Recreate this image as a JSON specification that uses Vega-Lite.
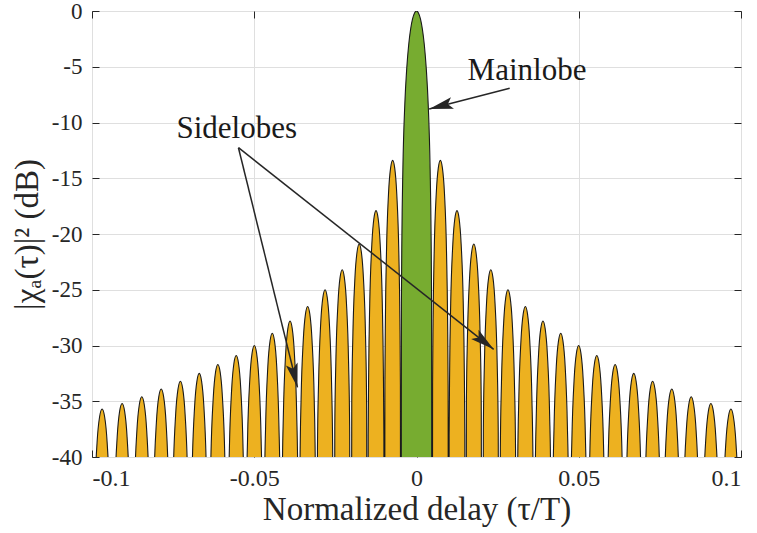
{
"$schema": "https://vega.github.io/schema/vega-lite/v6.json",
"width": 649,
"height": 446,
"autosize": {"type": "none"},
"padding": {"left": 92, "top": 11, "right": 16, "bottom": 76},
"background": "white",
"config": {"view": {"stroke": "#262626", "strokeWidth": 1}, "font": "Liberation Serif"},
"datasets": {
"curve": [
{"s":"M","x":-0.0048,"y":-100},{"s":"M","x":-0.00465,"y":-26.18},{"s":"M","x":-0.0045,"y":-20.17},{"s":"M","x":-0.0042,"y":-14.2},{"s":"M","x":-0.0036,"y":-8.34},{"s":"M","x":-0.003,"y":-5.11},{"s":"M","x":-0.0024,"y":-3.01},{"s":"M","x":-0.0018,"y":-1.6},{"s":"M","x":-0.0012,"y":-0.69},{"s":"M","x":-0.0006,"y":-0.17},{"s":"M","x":0,"y":0},
{"s":"M","x":0.0006,"y":-0.17},{"s":"M","x":0.0012,"y":-0.69},{"s":"M","x":0.0018,"y":-1.6},{"s":"M","x":0.0024,"y":-3.01},{"s":"M","x":0.003,"y":-5.11},{"s":"M","x":0.0036,"y":-8.34},{"s":"M","x":0.0042,"y":-14.2},{"s":"M","x":0.0045,"y":-20.17},{"s":"M","x":0.00465,"y":-26.18},{"s":"M","x":0.0048,"y":-100},
{"s":"R","x":0.0048,"y":-100},{"s":"R","x":0.00496,"y":-33.57},{"s":"R","x":0.00512,"y":-27.6},{"s":"R","x":0.00544,"y":-21.74},{"s":"R","x":0.00608,"y":-16.41},{"s":"R","x":0.00671,"y":-14.09},{"s":"R","x":0.00735,"y":-13.4},{"s":"R","x":0.00799,"y":-14.09},{"s":"R","x":0.00863,"y":-16.41},{"s":"R","x":0.00926,"y":-21.74},{"s":"R","x":0.00958,"y":-27.6},{"s":"R","x":0.00974,"y":-33.57},
{"s":"R","x":0.0099,"y":-100},{"s":"R","x":0.01006,"y":-38.07},{"s":"R","x":0.01022,"y":-32.1},{"s":"R","x":0.01054,"y":-26.24},{"s":"R","x":0.01119,"y":-20.91},{"s":"R","x":0.01183,"y":-18.59},{"s":"R","x":0.01248,"y":-17.9},{"s":"R","x":0.01312,"y":-18.59},{"s":"R","x":0.01376,"y":-20.91},{"s":"R","x":0.01441,"y":-26.24},{"s":"R","x":0.01473,"y":-32.1},{"s":"R","x":0.01489,"y":-38.07},
{"s":"R","x":0.01505,"y":-100},{"s":"R","x":0.01538,"y":-35.1},{"s":"R","x":0.0157,"y":-29.24},{"s":"R","x":0.01636,"y":-23.91},{"s":"R","x":0.01701,"y":-21.59},{"s":"R","x":0.01766,"y":-20.9},{"s":"R","x":0.01831,"y":-21.59},{"s":"R","x":0.01897,"y":-23.91},{"s":"R","x":0.01962,"y":-29.24},{"s":"R","x":0.01995,"y":-35.1},
{"s":"R","x":0.02027,"y":-100},{"s":"R","x":0.0206,"y":-37.4},{"s":"R","x":0.02093,"y":-31.54},{"s":"R","x":0.02158,"y":-26.21},{"s":"R","x":0.02224,"y":-23.89},{"s":"R","x":0.02289,"y":-23.2},{"s":"R","x":0.02355,"y":-23.89},{"s":"R","x":0.0242,"y":-26.21},{"s":"R","x":0.02486,"y":-31.54},{"s":"R","x":0.02518,"y":-37.4},
{"s":"R","x":0.02551,"y":-100},{"s":"R","x":0.02584,"y":-39.2},{"s":"R","x":0.02618,"y":-33.34},{"s":"R","x":0.02685,"y":-28.01},{"s":"R","x":0.02751,"y":-25.69},{"s":"R","x":0.02818,"y":-25},{"s":"R","x":0.02885,"y":-25.69},{"s":"R","x":0.02952,"y":-28.01},{"s":"R","x":0.03018,"y":-33.34},{"s":"R","x":0.03052,"y":-39.2},
{"s":"R","x":0.03085,"y":-100},{"s":"R","x":0.03119,"y":-40.7},{"s":"R","x":0.03152,"y":-34.84},{"s":"R","x":0.0322,"y":-29.51},{"s":"R","x":0.03287,"y":-27.19},{"s":"R","x":0.03355,"y":-26.5},{"s":"R","x":0.03422,"y":-27.19},{"s":"R","x":0.03489,"y":-29.51},{"s":"R","x":0.03557,"y":-34.84},{"s":"R","x":0.0359,"y":-40.7},
{"s":"R","x":0.03624,"y":-100},{"s":"R","x":0.03658,"y":-42},{"s":"R","x":0.03692,"y":-36.14},{"s":"R","x":0.03761,"y":-30.81},{"s":"R","x":0.03829,"y":-28.49},{"s":"R","x":0.03897,"y":-27.8},{"s":"R","x":0.03965,"y":-28.49},{"s":"R","x":0.04034,"y":-30.81},{"s":"R","x":0.04102,"y":-36.14},{"s":"R","x":0.04136,"y":-42},
{"s":"R","x":0.0417,"y":-100},{"s":"R","x":0.04204,"y":-43.1},{"s":"R","x":0.04239,"y":-37.24},{"s":"R","x":0.04307,"y":-31.91},{"s":"R","x":0.04376,"y":-29.59},{"s":"R","x":0.04445,"y":-28.9},{"s":"R","x":0.04513,"y":-29.59},{"s":"R","x":0.04582,"y":-31.91},{"s":"R","x":0.0465,"y":-37.24},{"s":"R","x":0.04685,"y":-43.1},
{"s":"R","x":0.04719,"y":-100},{"s":"R","x":0.04754,"y":-44.2},{"s":"R","x":0.04789,"y":-38.34},{"s":"R","x":0.04858,"y":-33.01},{"s":"R","x":0.04928,"y":-30.69},{"s":"R","x":0.04997,"y":-30},{"s":"R","x":0.05067,"y":-30.69},{"s":"R","x":0.05136,"y":-33.01},{"s":"R","x":0.05206,"y":-38.34},{"s":"R","x":0.0524,"y":-44.2},
{"s":"R","x":0.05275,"y":-100},{"s":"R","x":0.0531,"y":-45.1},{"s":"R","x":0.05345,"y":-39.24},{"s":"R","x":0.05415,"y":-33.91},{"s":"R","x":0.05485,"y":-31.59},{"s":"R","x":0.05556,"y":-30.9},{"s":"R","x":0.05626,"y":-31.59},{"s":"R","x":0.05696,"y":-33.91},{"s":"R","x":0.05766,"y":-39.24},{"s":"R","x":0.05801,"y":-45.1},
{"s":"R","x":0.05836,"y":-100},{"s":"R","x":0.05872,"y":-45.9},{"s":"R","x":0.05907,"y":-40.04},{"s":"R","x":0.05979,"y":-34.71},{"s":"R","x":0.0605,"y":-32.39},{"s":"R","x":0.06122,"y":-31.7},{"s":"R","x":0.06193,"y":-32.39},{"s":"R","x":0.06264,"y":-34.71},{"s":"R","x":0.06336,"y":-40.04},{"s":"R","x":0.06371,"y":-45.9},
{"s":"R","x":0.06407,"y":-100},{"s":"R","x":0.06443,"y":-46.7},{"s":"R","x":0.06479,"y":-40.84},{"s":"R","x":0.06551,"y":-35.51},{"s":"R","x":0.06623,"y":-33.19},{"s":"R","x":0.06695,"y":-32.5},{"s":"R","x":0.06767,"y":-33.19},{"s":"R","x":0.06839,"y":-35.51},{"s":"R","x":0.06911,"y":-40.84},{"s":"R","x":0.06947,"y":-46.7},
{"s":"R","x":0.06983,"y":-100},{"s":"R","x":0.0702,"y":-47.4},{"s":"R","x":0.07056,"y":-41.54},{"s":"R","x":0.0713,"y":-36.21},{"s":"R","x":0.07203,"y":-33.89},{"s":"R","x":0.07276,"y":-33.2},{"s":"R","x":0.07349,"y":-33.89},{"s":"R","x":0.07423,"y":-36.21},{"s":"R","x":0.07496,"y":-41.54},{"s":"R","x":0.07532,"y":-47.4},
{"s":"R","x":0.07569,"y":-100},{"s":"R","x":0.07606,"y":-48.1},{"s":"R","x":0.07644,"y":-42.24},{"s":"R","x":0.07718,"y":-36.91},{"s":"R","x":0.07793,"y":-34.59},{"s":"R","x":0.07867,"y":-33.9},{"s":"R","x":0.07942,"y":-34.59},{"s":"R","x":0.08016,"y":-36.91},{"s":"R","x":0.08091,"y":-42.24},{"s":"R","x":0.08128,"y":-48.1},
{"s":"R","x":0.08165,"y":-100},{"s":"R","x":0.08203,"y":-48.8},{"s":"R","x":0.0824,"y":-42.94},{"s":"R","x":0.08315,"y":-37.61},{"s":"R","x":0.0839,"y":-35.29},{"s":"R","x":0.08466,"y":-34.6},{"s":"R","x":0.08541,"y":-35.29},{"s":"R","x":0.08616,"y":-37.61},{"s":"R","x":0.08691,"y":-42.94},{"s":"R","x":0.08728,"y":-48.8},
{"s":"R","x":0.08766,"y":-100},{"s":"R","x":0.08804,"y":-49.4},{"s":"R","x":0.08842,"y":-43.54},{"s":"R","x":0.08919,"y":-38.21},{"s":"R","x":0.08995,"y":-35.89},{"s":"R","x":0.09072,"y":-35.2},{"s":"R","x":0.09148,"y":-35.89},{"s":"R","x":0.09224,"y":-38.21},{"s":"R","x":0.09301,"y":-43.54},{"s":"R","x":0.09339,"y":-49.4},
{"s":"R","x":0.09377,"y":-100},{"s":"R","x":0.09416,"y":-49.9},{"s":"R","x":0.09455,"y":-44.04},{"s":"R","x":0.09533,"y":-38.71},{"s":"R","x":0.09611,"y":-36.39},{"s":"R","x":0.09689,"y":-35.7},{"s":"R","x":0.09766,"y":-36.39},{"s":"R","x":0.09844,"y":-38.71},{"s":"R","x":0.09922,"y":-44.04},{"s":"R","x":0.09961,"y":-49.9},{"s":"R","x":0.1,"y":-100},
{"s":"L","x":-0.0048,"y":-100},{"s":"L","x":-0.00496,"y":-33.57},{"s":"L","x":-0.00512,"y":-27.6},{"s":"L","x":-0.00544,"y":-21.74},{"s":"L","x":-0.00608,"y":-16.41},{"s":"L","x":-0.00671,"y":-14.09},{"s":"L","x":-0.00735,"y":-13.4},{"s":"L","x":-0.00799,"y":-14.09},{"s":"L","x":-0.00863,"y":-16.41},{"s":"L","x":-0.00926,"y":-21.74},{"s":"L","x":-0.00958,"y":-27.6},{"s":"L","x":-0.00974,"y":-33.57},
{"s":"L","x":-0.0099,"y":-100},{"s":"L","x":-0.01006,"y":-38.07},{"s":"L","x":-0.01022,"y":-32.1},{"s":"L","x":-0.01054,"y":-26.24},{"s":"L","x":-0.01119,"y":-20.91},{"s":"L","x":-0.01183,"y":-18.59},{"s":"L","x":-0.01248,"y":-17.9},{"s":"L","x":-0.01312,"y":-18.59},{"s":"L","x":-0.01376,"y":-20.91},{"s":"L","x":-0.01441,"y":-26.24},{"s":"L","x":-0.01473,"y":-32.1},{"s":"L","x":-0.01489,"y":-38.07},
{"s":"L","x":-0.01505,"y":-100},{"s":"L","x":-0.01538,"y":-35.1},{"s":"L","x":-0.0157,"y":-29.24},{"s":"L","x":-0.01636,"y":-23.91},{"s":"L","x":-0.01701,"y":-21.59},{"s":"L","x":-0.01766,"y":-20.9},{"s":"L","x":-0.01831,"y":-21.59},{"s":"L","x":-0.01897,"y":-23.91},{"s":"L","x":-0.01962,"y":-29.24},{"s":"L","x":-0.01995,"y":-35.1},
{"s":"L","x":-0.02027,"y":-100},{"s":"L","x":-0.0206,"y":-37.4},{"s":"L","x":-0.02093,"y":-31.54},{"s":"L","x":-0.02158,"y":-26.21},{"s":"L","x":-0.02224,"y":-23.89},{"s":"L","x":-0.02289,"y":-23.2},{"s":"L","x":-0.02355,"y":-23.89},{"s":"L","x":-0.0242,"y":-26.21},{"s":"L","x":-0.02486,"y":-31.54},{"s":"L","x":-0.02518,"y":-37.4},
{"s":"L","x":-0.02551,"y":-100},{"s":"L","x":-0.02584,"y":-39.2},{"s":"L","x":-0.02618,"y":-33.34},{"s":"L","x":-0.02685,"y":-28.01},{"s":"L","x":-0.02751,"y":-25.69},{"s":"L","x":-0.02818,"y":-25},{"s":"L","x":-0.02885,"y":-25.69},{"s":"L","x":-0.02952,"y":-28.01},{"s":"L","x":-0.03018,"y":-33.34},{"s":"L","x":-0.03052,"y":-39.2},
{"s":"L","x":-0.03085,"y":-100},{"s":"L","x":-0.03119,"y":-40.7},{"s":"L","x":-0.03152,"y":-34.84},{"s":"L","x":-0.0322,"y":-29.51},{"s":"L","x":-0.03287,"y":-27.19},{"s":"L","x":-0.03355,"y":-26.5},{"s":"L","x":-0.03422,"y":-27.19},{"s":"L","x":-0.03489,"y":-29.51},{"s":"L","x":-0.03557,"y":-34.84},{"s":"L","x":-0.0359,"y":-40.7},
{"s":"L","x":-0.03624,"y":-100},{"s":"L","x":-0.03658,"y":-42},{"s":"L","x":-0.03692,"y":-36.14},{"s":"L","x":-0.03761,"y":-30.81},{"s":"L","x":-0.03829,"y":-28.49},{"s":"L","x":-0.03897,"y":-27.8},{"s":"L","x":-0.03965,"y":-28.49},{"s":"L","x":-0.04034,"y":-30.81},{"s":"L","x":-0.04102,"y":-36.14},{"s":"L","x":-0.04136,"y":-42},
{"s":"L","x":-0.0417,"y":-100},{"s":"L","x":-0.04204,"y":-43.1},{"s":"L","x":-0.04239,"y":-37.24},{"s":"L","x":-0.04307,"y":-31.91},{"s":"L","x":-0.04376,"y":-29.59},{"s":"L","x":-0.04445,"y":-28.9},{"s":"L","x":-0.04513,"y":-29.59},{"s":"L","x":-0.04582,"y":-31.91},{"s":"L","x":-0.0465,"y":-37.24},{"s":"L","x":-0.04685,"y":-43.1},
{"s":"L","x":-0.04719,"y":-100},{"s":"L","x":-0.04754,"y":-44.2},{"s":"L","x":-0.04789,"y":-38.34},{"s":"L","x":-0.04858,"y":-33.01},{"s":"L","x":-0.04928,"y":-30.69},{"s":"L","x":-0.04997,"y":-30},{"s":"L","x":-0.05067,"y":-30.69},{"s":"L","x":-0.05136,"y":-33.01},{"s":"L","x":-0.05206,"y":-38.34},{"s":"L","x":-0.0524,"y":-44.2},
{"s":"L","x":-0.05275,"y":-100},{"s":"L","x":-0.0531,"y":-45.1},{"s":"L","x":-0.05345,"y":-39.24},{"s":"L","x":-0.05415,"y":-33.91},{"s":"L","x":-0.05485,"y":-31.59},{"s":"L","x":-0.05556,"y":-30.9},{"s":"L","x":-0.05626,"y":-31.59},{"s":"L","x":-0.05696,"y":-33.91},{"s":"L","x":-0.05766,"y":-39.24},{"s":"L","x":-0.05801,"y":-45.1},
{"s":"L","x":-0.05836,"y":-100},{"s":"L","x":-0.05872,"y":-45.9},{"s":"L","x":-0.05907,"y":-40.04},{"s":"L","x":-0.05979,"y":-34.71},{"s":"L","x":-0.0605,"y":-32.39},{"s":"L","x":-0.06122,"y":-31.7},{"s":"L","x":-0.06193,"y":-32.39},{"s":"L","x":-0.06264,"y":-34.71},{"s":"L","x":-0.06336,"y":-40.04},{"s":"L","x":-0.06371,"y":-45.9},
{"s":"L","x":-0.06407,"y":-100},{"s":"L","x":-0.06443,"y":-46.7},{"s":"L","x":-0.06479,"y":-40.84},{"s":"L","x":-0.06551,"y":-35.51},{"s":"L","x":-0.06623,"y":-33.19},{"s":"L","x":-0.06695,"y":-32.5},{"s":"L","x":-0.06767,"y":-33.19},{"s":"L","x":-0.06839,"y":-35.51},{"s":"L","x":-0.06911,"y":-40.84},{"s":"L","x":-0.06947,"y":-46.7},
{"s":"L","x":-0.06983,"y":-100},{"s":"L","x":-0.0702,"y":-47.4},{"s":"L","x":-0.07056,"y":-41.54},{"s":"L","x":-0.0713,"y":-36.21},{"s":"L","x":-0.07203,"y":-33.89},{"s":"L","x":-0.07276,"y":-33.2},{"s":"L","x":-0.07349,"y":-33.89},{"s":"L","x":-0.07423,"y":-36.21},{"s":"L","x":-0.07496,"y":-41.54},{"s":"L","x":-0.07532,"y":-47.4},
{"s":"L","x":-0.07569,"y":-100},{"s":"L","x":-0.07606,"y":-48.1},{"s":"L","x":-0.07644,"y":-42.24},{"s":"L","x":-0.07718,"y":-36.91},{"s":"L","x":-0.07793,"y":-34.59},{"s":"L","x":-0.07867,"y":-33.9},{"s":"L","x":-0.07942,"y":-34.59},{"s":"L","x":-0.08016,"y":-36.91},{"s":"L","x":-0.08091,"y":-42.24},{"s":"L","x":-0.08128,"y":-48.1},
{"s":"L","x":-0.08165,"y":-100},{"s":"L","x":-0.08203,"y":-48.8},{"s":"L","x":-0.0824,"y":-42.94},{"s":"L","x":-0.08315,"y":-37.61},{"s":"L","x":-0.0839,"y":-35.29},{"s":"L","x":-0.08466,"y":-34.6},{"s":"L","x":-0.08541,"y":-35.29},{"s":"L","x":-0.08616,"y":-37.61},{"s":"L","x":-0.08691,"y":-42.94},{"s":"L","x":-0.08728,"y":-48.8},
{"s":"L","x":-0.08766,"y":-100},{"s":"L","x":-0.08804,"y":-49.4},{"s":"L","x":-0.08842,"y":-43.54},{"s":"L","x":-0.08919,"y":-38.21},{"s":"L","x":-0.08995,"y":-35.89},{"s":"L","x":-0.09072,"y":-35.2},{"s":"L","x":-0.09148,"y":-35.89},{"s":"L","x":-0.09224,"y":-38.21},{"s":"L","x":-0.09301,"y":-43.54},{"s":"L","x":-0.09339,"y":-49.4},
{"s":"L","x":-0.09377,"y":-100},{"s":"L","x":-0.09416,"y":-49.9},{"s":"L","x":-0.09455,"y":-44.04},{"s":"L","x":-0.09533,"y":-38.71},{"s":"L","x":-0.09611,"y":-36.39},{"s":"L","x":-0.09689,"y":-35.7},{"s":"L","x":-0.09766,"y":-36.39},{"s":"L","x":-0.09844,"y":-38.71},{"s":"L","x":-0.09922,"y":-44.04},{"s":"L","x":-0.09961,"y":-49.9},{"s":"L","x":-0.1,"y":-100}
],
"arrows": [
{"id":"main","x":0.02872,"y":-6.93,"x2":0.00392,"y2":-8.79},
{"id":"sideA","x":-0.05487,"y":-12.26,"x2":-0.03668,"y2":-33.75},
{"id":"sideB","x":-0.05487,"y":-12.26,"x2":0.02378,"y2":-30.34}
],
"notes": [
{"t":"Sidelobes","x":-0.0554,"y":-11.4},
{"t":"Mainlobe","x":0.03405,"y":-6.19}
]
},
"resolve": {"axis": {"x": "independent", "y": "independent"}},
"layer": [
{
"data": {"name": "curve"},
"mark": {"type": "area", "interpolate": "monotone", "clip": true, "opacity": 1},
"encoding": {
"x": {"field": "x", "type": "quantitative", "scale": {"domain": [-0.1, 0.1], "nice": false, "zero": false},
"axis": {"orient": "bottom", "values": [-0.1, -0.05, 0, 0.05, 0.1], "format": "~g", "labelExpr": "replace(datum.label, '\u2212', '-')", "domain": false, "grid": true, "gridColor": "#dfdfdf", "gridWidth": 1, "ticks": true, "tickSize": -7, "tickColor": "#262626", "labelPadding": 16, "labelFont": "Liberation Serif", "labelFontSize": 24, "labelColor": "#262626", "title": "Normalized delay (\u03c4/T)", "titleFont": "Liberation Serif", "titleFontSize": 33, "titleFontWeight": "normal", "titleColor": "#262626", "titleBaseline": "alphabetic", "titleX": 324.5, "titleY": 62}},
"y": {"field": "y", "type": "quantitative", "scale": {"domain": [-40, 0], "nice": false, "zero": false},
"axis": {"orient": "left", "values": [-40, -35, -30, -25, -20, -15, -10, -5, 0], "format": "d", "labelExpr": "replace(datum.label, '\u2212', '-')", "domain": false, "grid": true, "gridColor": "#dfdfdf", "gridWidth": 1, "ticks": true, "tickSize": -7, "tickColor": "#262626", "labelPadding": 17, "labelFont": "Liberation Serif", "labelFontSize": 23, "labelColor": "#262626", "title": "|\u03c7\u2090(\u03c4)|\u00b2 (dB)", "titleFont": "Liberation Serif", "titleFontSize": 33, "titleFontWeight": "normal", "titleColor": "#262626", "titleAngle": -90, "titleBaseline": "middle", "titleAlign": "center", "titleX": -65, "titleY": 223}},
"y2": {"datum": -40},
"color": {"field": "s", "type": "nominal", "scale": {"domain": ["L", "M", "R"], "range": ["#EDB120", "#77AC30", "#EDB120"]}, "legend": null}
}
},
{
"data": {"name": "curve"},
"mark": {"type": "line", "interpolate": "monotone", "clip": true, "color": "#1a1a1a", "strokeWidth": 1.1},
"encoding": {
"x": {"field": "x", "type": "quantitative", "axis": {"orient": "top", "values": [-0.1, -0.05, 0, 0.05, 0.1], "labels": false, "domain": false, "grid": false, "ticks": true, "tickSize": -7, "tickColor": "#262626", "title": null}},
"y": {"field": "y", "type": "quantitative", "axis": {"orient": "right", "values": [-40, -35, -30, -25, -20, -15, -10, -5, 0], "labels": false, "domain": false, "grid": false, "ticks": true, "tickSize": -7, "tickColor": "#262626", "title": null}},
"detail": {"field": "s"}
}
},
{
"data": {"name": "arrows"},
"mark": {"type": "rule", "color": "#262626", "strokeWidth": 1.5},
"encoding": {
"x": {"field": "x", "type": "quantitative", "axis": null},
"y": {"field": "y", "type": "quantitative", "axis": null},
"x2": {"field": "x2"},
"y2": {"field": "y2"}
}
},
{
"data": {"name": "arrows"},
"transform": [{"filter": "datum.id == 'main'"}],
"mark": {"type": "point", "shape": "M0,0L0.5,2L0,1.6L-0.5,2Z", "filled": true, "color": "#262626", "opacity": 1, "size": 576, "angle": 255.6, "strokeWidth": 0},
"encoding": {
"x": {"field": "x2", "type": "quantitative", "axis": null},
"y": {"field": "y2", "type": "quantitative", "axis": null}
}
},
{
"data": {"name": "arrows"},
"transform": [{"filter": "datum.id == 'sideA'"}],
"mark": {"type": "point", "shape": "M0,0L0.5,2L0,1.6L-0.5,2Z", "filled": true, "color": "#262626", "opacity": 1, "size": 576, "angle": 166.2, "strokeWidth": 0},
"encoding": {
"x": {"field": "x2", "type": "quantitative", "axis": null},
"y": {"field": "y2", "type": "quantitative", "axis": null}
}
},
{
"data": {"name": "arrows"},
"transform": [{"filter": "datum.id == 'sideB'"}],
"mark": {"type": "point", "shape": "M0,0L0.5,2L0,1.6L-0.5,2Z", "filled": true, "color": "#262626", "opacity": 1, "size": 576, "angle": 128.3, "strokeWidth": 0},
"encoding": {
"x": {"field": "x2", "type": "quantitative", "axis": null},
"y": {"field": "y2", "type": "quantitative", "axis": null}
}
},
{
"data": {"name": "notes"},
"mark": {"type": "text", "font": "Liberation Serif", "fontSize": 31, "align": "center", "baseline": "alphabetic", "color": "#1a1a1a"},
"encoding": {
"x": {"field": "x", "type": "quantitative", "axis": null},
"y": {"field": "y", "type": "quantitative", "axis": null},
"text": {"field": "t"}
}
}
]
}
